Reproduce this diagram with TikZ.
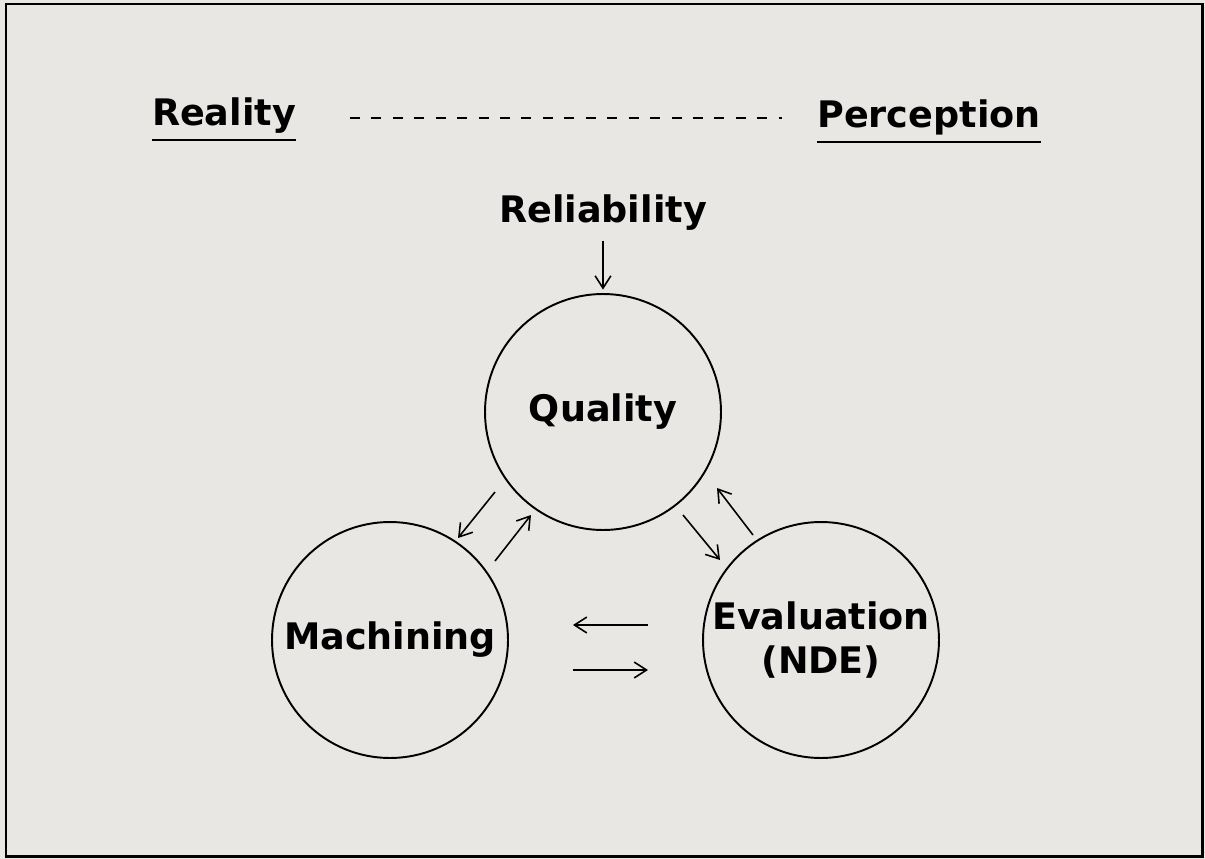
\documentclass[tikz,border=0pt]{standalone}
\usepackage{fontspec}
\setmainfont{DejaVu Sans}
\usetikzlibrary{arrows.meta}
\definecolor{paper}{RGB}{233,231,228}

\begin{document}
\begin{tikzpicture}[x=0.02cm, y=-0.02cm,
      word/.style = {font=\fontsize{20.8}{25.5}\selectfont\bfseries, inner sep=0pt},
      head/.style = {word, inner ysep=4pt},
      ball/.style = {word, circle, draw, line width=1.1pt, minimum size=4.72cm, align=center},
      uline/.style = {line width=1.2pt},
      flow/.style = {line width=.9pt, -{Straight Barb[length=7pt, width=9pt]}}]
      \useasboundingbox (0,0) rectangle (1205,859);
      \fill[paper] (0,0) rectangle (1205,859);
      \draw[line width=1.7pt] (6,4) rectangle (1202,856);
      % headings
      \node[head, anchor=base] (reality) at (224,125) {Reality};
      \node[head, anchor=base] (perception) at (929,127) {Perception};
      \draw[uline] (reality.south west) -- (reality.south east);
      \draw[uline] (perception.south west) -- (perception.south east);
      \coordinate (dashA) at (350,118);
      \coordinate (dashB) at (782,118);
      \draw[line width=1pt, dash pattern=on 5.7pt off 6.5pt] (dashA) -- (dashB);
      % circles
      \node[word, anchor=base] (reliability) at (603,222) {Reliability};
      \node[ball] (quality) at (603,412) {Quality};
      \node[ball] (machining) at (390,640) {Machining};
      \node[ball] (evaluation) at (821,640) {Evaluation\\(NDE)};
      \draw[flow, shorten <=6pt, shorten >=2pt] (reliability.south) -- (quality.north);
      \coordinate (qmA) at (495,492);
      \coordinate (qmB) at (458,538);
      \coordinate (mqA) at (495,561);
      \coordinate (mqB) at (531,515);
      \coordinate (qeA) at (683,515);
      \coordinate (qeB) at (720,560);
      \coordinate (eqA) at (753,535);
      \coordinate (eqB) at (717,488);
      \coordinate (emA) at (648,625);
      \coordinate (emB) at (573,625);
      \coordinate (meA) at (573,670);
      \coordinate (meB) at (648,670);
      \draw[flow] (qmA) -- (qmB);
      \draw[flow] (mqA) -- (mqB);
      \draw[flow] (qeA) -- (qeB);
      \draw[flow] (eqA) -- (eqB);
      \draw[flow] (emA) -- (emB);
      \draw[flow] (meA) -- (meB);
\end{tikzpicture}
\end{document}
